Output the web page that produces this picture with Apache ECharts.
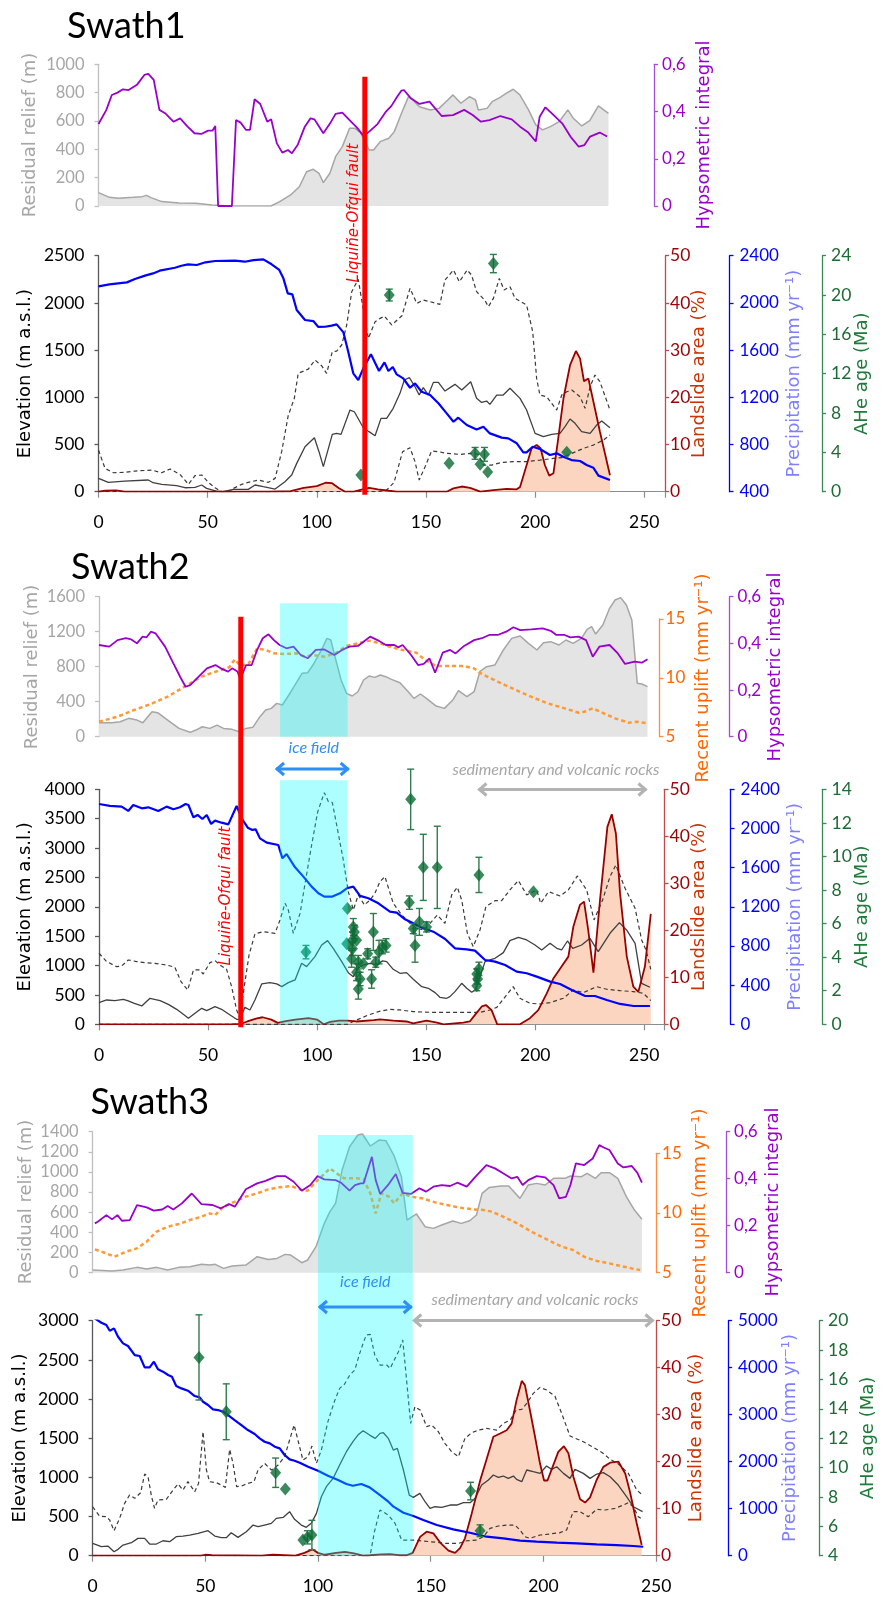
<!DOCTYPE html>
<html>
<head>
<meta charset="utf-8">
<script src="https://cdn.jsdelivr.net/npm/echarts/dist/echarts.min.js"></script>
<style>
  html, body { margin: 0; padding: 0; background: #fff; }
  #chart { width: 883px; height: 1599px; }
</style>
</head>
<body>
<div id="chart"></div>
<script>
// ---------------- data (distance along swath in km, value) ----------------
// Swath1 top panel
const s1Relief = [[0,94],[5,61],[9,54],[16,61],[20,66],[22,75],[24,59],[29,31],[37,21],[44.5,19],[52,7],[60,0],[79,0],[83,31],[88,78],[92,136],[95.3,242],[98.4,259],[101,231],[103,165],[106,231],[108.6,348],[111.7,419],[115,548],[117.5,548],[120,518],[124,395],[126,395],[129,454],[133,478],[135.5,525],[138.8,654],[142,772],[144,748],[147,701],[152,678],[156,689],[160,748],[162.4,784],[166,725],[170,772],[172.7,748],[174,678],[178,689],[180.3,736],[184,767],[186.7,795],[190,824],[193,784],[197,678],[200.3,572],[203.4,537],[207,560],[211,595],[215,678],[217.5,619],[221.4,565],[225,602],[229,706],[233.6,654]];
const s1Hyps = [[0,0.347],[3.6,0.407],[6.1,0.47],[8.7,0.48],[11.2,0.494],[13.8,0.491],[17.6,0.513],[21,0.555],[22.8,0.559],[25.3,0.534],[27.9,0.407],[30.5,0.393],[34.3,0.357],[37.4,0.371],[40.8,0.336],[44,0.308],[47.1,0.305],[50.2,0.319],[52.2,0.319],[53.5,0.339],[54.8,0],[61.1,0],[63,0.364],[65.1,0.353],[67.6,0.322],[69.4,0.322],[71.5,0.452],[74.1,0.432],[77.3,0.357],[79.1,0.367],[81.7,0.265],[84.2,0.226],[86.8,0.237],[88.6,0.223],[91.2,0.258],[94.5,0.336],[97.1,0.371],[98.9,0.367],[103,0.308],[106.1,0.35],[108.6,0.39],[111.7,0.395],[115,0.364],[118.3,0.333],[121.4,0.297],[124,0.315],[127.8,0.347],[131.7,0.4],[134.2,0.424],[136.8,0.463],[138.8,0.489],[139.9,0.491],[143.1,0.456],[147,0.432],[151.6,0.442],[157.2,0.381],[162.4,0.385],[167.5,0.407],[171.4,0.385],[175.2,0.357],[179.1,0.364],[184.1,0.381],[189.3,0.367],[193.1,0.336],[196.9,0.311],[200.3,0.273],[202.1,0.378],[204.7,0.418],[208.5,0.385],[212.4,0.35],[216.2,0.294],[220,0.251],[222.6,0.258],[225.2,0.294],[229.6,0.311],[233,0.294]];
// Swath1 bottom panel
const s1Precip = [[0,2140],[5,2157],[13,2174],[16.7,2202],[21.3,2231],[25,2250],[28,2273],[35,2298],[38,2315],[41,2327],[45,2321],[49,2344],[53.4,2355],[62.5,2358],[67,2349],[71,2363],[75.5,2369],[79.3,2327],[82.8,2279],[84.7,2208],[86.7,2081],[88.8,2072],[90.8,1940],[94.6,1855],[98.4,1846],[100.7,1796],[103.8,1798],[106.8,1807],[109.1,1818],[112.2,1750],[114.4,1586],[116.7,1403],[119,1346],[121.3,1445],[124.8,1564],[128.5,1423],[131,1496],[132.8,1423],[134.8,1457],[136.6,1394],[139.6,1360],[142.7,1281],[145,1318],[148,1247],[151.9,1219],[155.7,1149],[159.5,1064],[162.6,993],[164.8,1027],[168.7,965],[173.2,928],[176.3,951],[179.3,894],[184.7,858],[187.7,852],[191.6,810],[194.6,733],[196.1,733],[198.9,781],[202.2,762],[206.8,711],[209.9,725],[212.9,697],[216.7,668],[220.6,660],[223.6,626],[226.7,603],[229,536],[234.3,499]];
const s1Mean = [[0,141],[4.5,99],[12,113],[22.8,124],[25,95],[29,78],[35.8,64],[39.6,42],[44.2,46],[47.3,71],[49.5,35],[54,7],[57,0],[61.8,25],[68.6,25],[71.7,71],[75.5,53],[80.9,28],[85.4,106],[88.5,177],[90.8,300],[94.6,477],[98.9,572],[101,424],[103,265],[107.1,607],[109.1,618],[111.1,607],[115.2,865],[117.2,847],[121.3,678],[123.9,636],[126.7,593],[129.4,777],[132,777],[135,883],[138.1,1042],[140.1,1183],[142.4,1208],[145,1112],[146.9,1024],[148.8,1102],[151.1,1024],[153.4,1158],[155.7,1158],[158.7,1066],[163.3,1137],[166.4,1077],[170.5,1165],[173.2,989],[175.5,946],[177.8,960],[179.3,925],[182.4,1024],[185.4,1024],[188.5,1095],[193.1,989],[196.1,865],[200,618],[203.8,583],[207.6,607],[211.4,618],[213.7,689],[216,770],[218.3,724],[221.3,636],[225.2,618],[228.2,706],[230.5,749],[234.3,678]];
const s1Max = [[0,441],[3,247],[6.8,201],[12.1,205],[16.7,219],[24.4,229],[28.9,201],[32.8,240],[37.3,184],[41.2,78],[44.2,170],[47.3,177],[50.3,99],[53.4,42],[56.4,0],[60,0],[61.8,35],[65.6,78],[68.6,99],[73.2,124],[77.8,99],[80.9,141],[83.9,424],[86.9,805],[89.7,989],[91.5,1254],[96.1,1299],[99.2,1395],[102.2,1335],[104.5,1254],[107.1,1483],[109.1,1490],[111.4,1554],[113.7,1766],[116,2119],[119,2250],[121.5,1900],[123.6,1624],[126.7,1801],[129,1836],[131,1860],[134.3,1766],[139,1864],[142.7,2154],[145.8,1995],[148.8,2030],[151.9,2013],[156.4,1984],[158.7,2242],[162.6,2348],[165.3,2224],[168.9,2348],[170.9,2295],[173.2,2119],[176.9,2030],[178.6,1960],[180.9,2048],[183.6,2260],[185.8,2136],[188.5,2172],[190.8,2048],[196.1,1977],[198.9,1695],[200.7,1200],[202.2,1024],[205.3,1006],[209.9,865],[212.2,1024],[214.5,1059],[216.8,1077],[220.6,1006],[222.9,883],[225.2,1112],[227.4,1236],[229.7,1165],[234.3,865]];
const s1Min = [[0,0],[128,0],[132,18],[135.4,99],[139.3,424],[142.7,466],[145,318],[146.9,124],[149.6,265],[152.6,431],[155.7,424],[159.5,406],[165.6,395],[170.2,406],[173.9,395],[176.3,282],[180.1,282],[184.7,311],[190.1,318],[196.1,318],[202.2,335],[208.4,353],[212.2,360],[216.8,406],[222.2,459],[226.7,494],[231.3,547],[234.3,600]];
const s1Slide = [[0,0],[3,0.2],[8,0.3],[12,0],[78,0],[88,0.1],[94,0.8],[100,1.2],[104,1.9],[107,1.8],[110,0.8],[113,0],[117,0],[120,0.4],[124,0.8],[128,0.5],[133,0.2],[136.6,0],[159.5,0],[162.6,0.7],[166.4,1.1],[170.2,0.8],[174.9,0],[180.9,0.35],[187,0.6],[191.6,0.5],[193.1,1],[196.1,5.6],[198.4,9.2],[200.7,9.9],[202.5,9.2],[204.5,5.6],[206.5,3.4],[208.4,3.9],[210.6,11.3],[213,19.8],[216,26.8],[218.7,29.8],[220.6,28.2],[222.4,23.4],[224.4,24],[226.7,19.1],[229.7,12.7],[234.3,3.5]];
// [km, age Ma, error Ma]
const s1Ahe = [[120.2,1.7,0],[133.2,20.0,0.6],[160.6,2.9,0],[172.5,3.9,0.6],[174.8,2.8,0],[176.8,3.8,0.7],[178.3,2.0,0],[180.9,23.2,0.93],[214.5,4.0,0]];

// Swath2 top panel
const s2Relief = [[0,160],[5.9,160],[9.7,171],[13.6,210],[17.4,190],[20.1,160],[24.3,286],[26.9,274],[31.5,190],[36.7,95],[41.8,50],[44.4,76],[47.4,114],[50.8,95],[54.1,133],[57.1,95],[61,84],[64.3,57],[67.4,95],[70.5,107],[73.8,229],[76.4,305],[79,324],[81.5,381],[84.1,362],[88,514],[93.1,724],[95.7,731],[98.1,819],[102,991],[104.5,1124],[106.3,1105],[108.4,895],[111,648],[113.5,495],[116.1,465],[118.7,514],[121.3,648],[123.8,693],[126.4,678],[129,705],[131.5,686],[134.1,655],[138,617],[141.8,514],[144.4,438],[147.4,488],[150.7,427],[154.6,350],[158.4,324],[162.2,419],[164.8,526],[168.7,457],[172,514],[174.6,743],[177.7,800],[181.5,819],[185.4,991],[189.2,1124],[193.1,1151],[196.9,1067],[200.8,991],[203.8,1074],[207.1,1086],[210.9,1048],[214.1,1105],[217.4,1067],[221.2,1124],[223.8,1227],[225.9,1257],[227.7,1173],[231,1276],[234.1,1467],[236.6,1562],[239.2,1589],[241.8,1505],[244.3,1334],[246.8,610],[248.9,602],[251.5,572]];
const s2Hyps = [[0,0.393],[4.7,0.386],[8.5,0.414],[12.3,0.422],[14.8,0.417],[17.4,0.4],[20,0.429],[21.8,0.426],[23.8,0.45],[25.9,0.443],[30.3,0.386],[34.1,0.314],[37.2,0.257],[39.7,0.214],[41.8,0.221],[45.7,0.257],[49.5,0.293],[53.4,0.307],[55.8,0.293],[59.2,0.279],[61,0.293],[63.5,0.279],[64.8,0.246],[67.4,0.307],[70,0.307],[72.5,0.372],[75.1,0.422],[77.7,0.439],[80.2,0.414],[82.8,0.393],[85.9,0.379],[89.2,0.386],[92.5,0.35],[95.7,0.336],[99.4,0.372],[103.3,0.374],[107.9,0.35],[111.5,0.372],[114.8,0.386],[118.7,0.389],[121.3,0.407],[124.3,0.429],[127.7,0.414],[131.5,0.393],[135.4,0.393],[137.2,0.383],[139.2,0.393],[143.1,0.35],[146.3,0.307],[148.9,0.312],[151.5,0.336],[154.1,0.274],[157.6,0.36],[161,0.372],[163.5,0.357],[167.4,0.389],[172,0.414],[175.6,0.422],[178.9,0.436],[182.8,0.436],[186.7,0.45],[190,0.469],[193.1,0.457],[198.2,0.46],[203.4,0.464],[207.1,0.454],[209.7,0.436],[213.5,0.436],[216.1,0.426],[219.9,0.429],[223.3,0.414],[226.4,0.343],[229.4,0.386],[234.1,0.393],[237.9,0.357],[241.2,0.312],[245.6,0.322],[248.9,0.317],[251.5,0.332]];
const s2Uplift = [[0,6.27],[8.5,6.7],[16.1,7.27],[23.8,7.78],[31.5,8.4],[39.2,9.25],[46.9,10.1],[54.7,10.6],[59.7,10.9],[62.3,11.57],[64.8,11.0],[68.7,11.23],[72.5,12.5],[76.4,12.37],[80.2,12.08],[85.4,12.03],[90.5,12.08],[94.4,11.8],[98.1,11.94],[103.3,11.8],[108.4,12.08],[113.5,12.71],[118.7,12.93],[123.8,13.16],[129,12.93],[134.1,12.59],[139.2,12.37],[145.5,12.14],[149.5,11.52],[154.5,11.0],[159.7,11.0],[167.4,11.0],[172,10.8],[175.1,10.38],[182.8,9.67],[190.5,9.02],[198.1,8.4],[205.8,7.83],[213.5,7.41],[219.9,7.04],[222.5,7.12],[226.4,7.41],[231.5,6.98],[236.6,6.56],[243,6.19],[246.8,6.27],[251.5,6.13]];
// Swath2 bottom panel
const s2Precip = [[0,2250],[5,2230],[10.4,2223],[13.4,2179],[15.7,2240],[19.6,2206],[22.6,2216],[27.2,2179],[31,2223],[34.1,2196],[37.1,2216],[39.7,2250],[41,2240],[43.3,2114],[45.2,2138],[47.4,2097],[49.4,2138],[51.4,2046],[53.2,2080],[56.2,2059],[59.3,2042],[63.1,2230],[65.4,2104],[68.2,2008],[70.3,1985],[71.8,1991],[73.8,1899],[76.9,1855],[82.2,1831],[84.1,1695],[86,1739],[89.9,1603],[93.7,1508],[97.5,1406],[100.6,1338],[103.3,1304],[107,1304],[110.5,1338],[113.6,1389],[116.6,1406],[119.7,1311],[123.5,1287],[128.1,1236],[133.4,1151],[136.5,1140],[140.3,1072],[144.1,1031],[148,987],[153.3,946],[158.7,871],[163.2,776],[168.6,766],[172.4,752],[177,657],[181.6,640],[186.2,606],[191.5,538],[196.1,521],[200.7,487],[206.9,436],[211.4,412],[216.8,351],[222.9,289],[227.4,289],[232.8,248],[238.9,208],[245.1,187],[252.6,187]];
const s2Mean = [[0,369],[3.5,414],[7.3,403],[11.2,426],[13.4,397],[16.2,357],[19.6,312],[23.4,443],[28,403],[31.8,340],[35.6,255],[39.1,159],[41,102],[44,187],[47.1,272],[49.4,233],[53.2,301],[56.2,255],[60.1,159],[63.1,85],[64.6,85],[66.9,289],[69.2,244],[71.5,414],[74.6,687],[78.4,709],[81.5,687],[83.8,641],[86.8,709],[89.9,755],[92.9,1038],[95.2,982],[99,1152],[102.1,1350],[104.8,1424],[107.4,1294],[111.3,1067],[114.3,879],[116.6,811],[118.9,953],[121.2,1010],[124.3,1038],[127.3,1010],[130,1080],[131.9,1067],[134.9,936],[138,868],[141,879],[144.1,766],[148,641],[151,613],[154.1,539],[156.3,460],[159.4,443],[160.9,471],[163.2,556],[166.3,698],[168.6,613],[170.9,545],[172.4,584],[174.7,811],[177,1067],[179.3,1095],[181.6,1123],[185.4,1220],[188.4,1424],[192.3,1481],[196.1,1436],[199.9,1350],[203,1265],[206.8,1379],[209.9,1294],[212.1,1265],[214.8,1418],[217.2,1294],[221.3,1350],[225.1,1464],[228.9,1237],[234.3,1549],[238.6,1731],[241.9,1606],[245.8,1379],[248.8,698],[252.6,630]];
const s2Max = [[0,1209],[3.5,1067],[8.1,982],[10.4,993],[13.4,1095],[17.3,1067],[21.1,1050],[25.7,1038],[31,1010],[34.8,970],[37.6,726],[40.7,584],[43.3,925],[45.9,925],[47.8,857],[50.9,1050],[53.2,1084],[55.5,1010],[58.5,936],[60.8,641],[63.1,244],[64.6,102],[66.6,641],[68.8,1180],[71.5,1538],[75.4,1577],[80.7,1549],[83,1776],[85.3,2060],[86.8,1946],[89.1,1549],[92.2,1889],[94.5,2400],[97.5,3053],[100.3,3620],[103.3,3943],[105.2,3790],[107,3773],[109.4,3308],[112,2797],[114.3,2258],[116.6,1946],[118.9,2202],[121.7,2031],[124.3,2116],[126.5,2230],[128.8,2428],[131.1,2514],[134.9,2060],[138.8,1861],[142.6,1719],[145.6,1634],[148.7,1606],[151.8,1719],[155.1,1861],[158.6,1719],[161.7,2202],[164.3,2332],[166.3,2116],[168.9,1549],[171.6,1322],[174.7,1606],[177.4,2003],[181.6,2105],[184.6,2105],[188.4,2287],[192.3,2446],[196.1,2202],[200.7,2287],[202.5,2060],[206.1,2258],[211.4,2184],[215.2,2287],[219.3,2525],[223.6,2287],[227,1776],[230.9,2116],[234.3,2514],[237,2712],[241.2,2315],[245.8,1975],[248.8,1436],[250.8,1265],[253,936]];
const s2Min = [[0,0],[114,0],[117.4,62],[123,150],[128.1,216],[133.4,255],[138,244],[144.1,216],[151.8,204],[174.7,204],[179.3,244],[182.4,289],[186.9,499],[189.9,641],[193,443],[197.6,357],[202.2,346],[206.8,369],[212.9,443],[217.5,584],[222.1,539],[228.2,641],[232.8,596],[238.9,573],[245,556],[249.6,528],[253,403]];
const s2Slide = [[0,0],[60,0],[65,0.1],[68,0.6],[72,1.2],[75,1.5],[79,1.0],[82,0.3],[85,0.6],[90,1.0],[96,1.3],[100,1.0],[103,0],[106,0.5],[110,0.8],[114,0.8],[118,0.6],[126,0.9],[128.8,1.06],[135,0.8],[141,0.6],[144,0.2],[150.2,0.8],[155,0.35],[158,0],[167,0.35],[170,0.6],[172.4,2],[175.5,3.8],[177.4,4.1],[180,3.0],[182.6,0],[193,0],[197.6,1.3],[201.4,3.0],[205.3,6.6],[208.4,9.8],[212.1,12.3],[215.2,14.4],[217.5,20.8],[220.5,25.4],[222.4,26.1],[224.3,20.1],[226.7,11],[229.7,26.4],[233.1,42],[235.1,44.7],[237,40.6],[238.9,27.9],[242,14.4],[245,8],[247.3,6.9],[250.3,12.3],[253,23.5]];
const s2Ahe = [[94.9,4.3,0.4],[113.9,6.9,0],[113.6,4.8,0],[116.6,5.8,0.5],[117.1,5.5,0.4],[116.2,5.0,0.5],[118.1,5.0,0],[116.2,4.5,0.4],[115.8,3.9,0.5],[118.9,3.7,0.4],[121.2,3.6,0],[118.1,3.1,0.5],[119.7,2.7,0.4],[118.9,2.1,0.6],[123.2,4.2,0.3],[125.8,5.5,1.1],[126.9,3.7,0.3],[125,2.7,0.55],[128.4,4.3,0.7],[129.9,4.6,0.4],[131.6,4.7,0.4],[142.9,13.4,1.8],[148.7,9.35,1.97],[155.1,9.35,2.45],[142.3,7.25,0.4],[144.1,5.7,0.3],[146.9,6.1,0.8],[150.2,5.8,0.3],[144.9,4.7,1.0],[174.2,8.9,1.05],[174.2,3.3,0.4],[173.2,3.0,0.3],[173.6,2.7,0.3],[173.2,2.3,0.3],[199.2,7.9,0]];

// Swath3 top panel
const s3Relief = [[0,26],[8.6,17],[13.5,26],[19.7,53],[24,36],[28.4,53],[33.3,26],[38.3,53],[43.2,60],[48.3,83],[52,76],[54.4,83],[58.1,43],[61.9,66],[68,76],[73,159],[78,132],[81.8,142],[85.4,182],[87.9,175],[92.8,99],[95.4,126],[99.1,258],[102.8,490],[105.3,606],[107.8,688],[110.7,1019],[114,1251],[117.7,1367],[119.7,1377],[123.2,1258],[127.1,1317],[130.1,1311],[133.8,1159],[137,953],[139.5,523],[143.7,583],[147.5,457],[151.2,440],[154.9,473],[159.8,513],[163.6,490],[167.3,516],[170.3,573],[172.8,788],[176,847],[181,861],[184.6,861],[189.6,738],[193.3,871],[197,887],[200.8,871],[204.5,937],[209.5,937],[212,960],[216.9,953],[219.4,986],[223.1,937],[225.6,993],[229.3,993],[233,937],[236.8,755],[240.4,622],[243.7,530]];
const s3Hyps = [[1,0.21],[2.3,0.217],[6.1,0.245],[8.6,0.227],[11,0.245],[13,0.221],[16.5,0.224],[19.7,0.288],[24,0.278],[27.1,0.264],[30.9,0.269],[33.3,0.284],[35.8,0.269],[39.6,0.295],[44,0.337],[48.3,0.292],[53.2,0.288],[56.9,0.274],[60.6,0.292],[63.1,0.281],[68,0.355],[73,0.38],[76.7,0.391],[81.8,0.411],[85.4,0.411],[89.2,0.387],[92.8,0.349],[96.6,0.373],[99.8,0.411],[102.8,0.397],[107.8,0.394],[110.2,0.383],[114,0.349],[116.4,0.373],[118.9,0.38],[120.2,0.38],[123.9,0.493],[125.6,0.394],[127.6,0.335],[131.4,0.377],[134.5,0.42],[137.5,0.34],[141.2,0.335],[145,0.359],[148,0.345],[151.2,0.366],[154.9,0.373],[158.6,0.369],[161.8,0.383],[166,0.366],[169.8,0.408],[174.7,0.458],[178.5,0.444],[182.1,0.423],[185.9,0.401],[188.4,0.408],[190.8,0.373],[193.3,0.394],[197,0.411],[200.8,0.406],[204.5,0.373],[207,0.316],[210,0.323],[212,0.373],[214.4,0.465],[218.1,0.458],[221.9,0.486],[224.8,0.543],[226.8,0.533],[229.3,0.522],[233,0.465],[235.5,0.448],[239.2,0.454],[241.7,0.425],[243.7,0.383]];
const s3Uplift = [[1,6.95],[6.1,6.62],[9.7,6.34],[14.8,6.76],[19.7,7.04],[24,7.6],[28.4,8.44],[33.3,8.85],[38.3,9.08],[43.2,9.41],[48.3,9.69],[52,9.97],[54.4,9.83],[58.1,10.53],[63.1,10.95],[68,11.37],[73,11.65],[78,11.98],[83,12.15],[87.9,12.26],[92.8,11.93],[95.4,11.87],[99.1,12.62],[102.8,13.27],[105.3,13.74],[107.8,13.38],[111.5,12.9],[117.7,12.9],[120.2,12.82],[123.2,11.65],[125.6,9.97],[128.1,11.65],[131.4,11.37],[133.8,10.81],[137.5,11.65],[141.2,11.37],[146.2,11.23],[152.4,10.87],[157.3,10.67],[162.3,10.47],[168.5,10.31],[173.4,10.25],[177.2,10.11],[182.1,9.69],[188.4,9.13],[194.6,8.44],[202,7.74],[208.2,7.18],[213.2,6.9],[218.1,6.34],[223.1,6.01],[229.3,5.78],[234.3,5.56],[239.2,5.36],[242.9,5.22]];
// Swath3 bottom panel
const s3Precip = [[0,5080],[3.9,4957],[6.1,4908],[7.6,4787],[9.5,4837],[11.3,4659],[13.5,4518],[15.7,4461],[18.7,4269],[20.9,4248],[23.1,4007],[25.3,4007],[27.2,4128],[29,3965],[31.2,3915],[33.5,3844],[35.2,3808],[37.1,3610],[39.4,3560],[42.3,3510],[45.3,3397],[47.5,3369],[49,3276],[51.2,3206],[53.4,3113],[55.6,3099],[57.9,3064],[60.1,2993],[63,2886],[66,2780],[68.9,2674],[71.9,2589],[74.1,2496],[76.3,2425],[78.6,2390],[80.8,2319],[83,2284],[85.2,2142],[87.4,2050],[89.6,2021],[91.9,1979],[95.6,1894],[100,1808],[104.4,1702],[108.9,1610],[112.6,1525],[115.5,1489],[119.2,1525],[122.9,1454],[127.5,1291],[131.2,1149],[133.5,1043],[137.9,915],[142.3,844],[146.7,759],[152.7,652],[160,560],[167.4,489],[174.8,404],[182.2,369],[189.6,319],[197,298],[205.9,277],[214.8,262],[223.6,241],[232.5,227],[239.9,206],[244.3,191]];
const s3Mean = [[0,157],[3.9,115],[6.8,123],[9.5,51],[11.3,81],[13.5,136],[17.2,166],[20.1,221],[23.1,221],[25.3,149],[28.3,149],[31.2,191],[34.2,179],[37.1,243],[40.1,251],[43.1,264],[46.8,285],[51.2,319],[54.2,251],[57.1,230],[59.3,230],[61.5,294],[64.5,234],[68.2,306],[71.2,391],[73.4,370],[76.3,391],[79.3,413],[81.5,477],[84.5,489],[87.4,562],[89.6,464],[92.6,391],[94.8,362],[97,413],[99.3,540],[101.5,753],[103.7,881],[106.7,987],[109.6,1157],[112.6,1328],[115.5,1455],[117.7,1540],[120,1596],[122.9,1540],[125.4,1498],[127.5,1562],[129,1570],[131.2,1498],[133.4,1349],[135.2,1370],[137.9,1094],[140.5,774],[142.3,745],[145.2,796],[147.5,689],[149.7,604],[151.9,625],[154.9,617],[158.6,647],[161.6,647],[164.5,677],[167.5,677],[169.7,732],[172.6,902],[175.6,966],[177.8,1030],[180,1000],[182.2,1017],[184.4,987],[186.7,1017],[188.1,974],[190.4,945],[192.6,1094],[195.5,1072],[198.5,1051],[201.4,1145],[203.7,1102],[205.9,1136],[208.9,1051],[211.8,987],[214,1102],[217.7,1051],[220.7,987],[223.7,1042],[226.6,1060],[229.6,1008],[233.2,902],[236.9,753],[239.9,625],[244,562]];
const s3Max = [[0,625],[3.1,506],[6.1,498],[7.6,455],[9.5,319],[12,477],[14.2,668],[16.4,774],[18.7,732],[21.3,804],[23.1,1042],[24.6,1008],[26.1,762],[27.5,604],[29,711],[32.7,719],[35.7,838],[37.9,915],[40.1,838],[42.3,945],[45.3,817],[47,923],[49,1583],[50.5,1094],[51.9,945],[54.9,932],[57.1,902],[58.9,872],[60.8,1357],[62.3,1179],[63.9,881],[66,889],[68.9,923],[71.6,945],[73.4,1094],[76.3,1179],[79.3,1094],[82.3,1157],[85.2,1264],[87.4,1477],[89.4,1668],[91.1,1477],[93.3,1221],[95.6,1264],[97.3,1400],[99.3,1179],[101.5,1349],[104.4,1711],[107.4,1979],[109.6,2136],[111.8,2191],[114.1,2306],[116.3,2370],[118.5,2583],[120,2710],[121.4,2817],[123.2,2825],[125.2,2560],[127.5,2434],[130.5,2434],[132,2391],[134.2,2519],[135.7,2604],[137.6,2753],[139.3,2242],[141.1,1689],[143,1902],[145.3,1859],[148.2,1647],[150.4,1668],[153.4,1583],[156.3,1434],[159.3,1328],[162.3,1264],[165.2,1498],[168.2,1570],[171.2,1604],[174.8,1625],[179.3,1604],[182.2,1689],[185.3,1732],[187.9,1859],[190.4,1868],[192.6,1944],[195.5,2072],[198.5,2149],[201.4,2115],[205.1,2038],[208.1,1817],[211.8,1528],[217.7,1455],[222.2,1383],[226.6,1306],[229.6,1230],[233.3,1170],[237.7,1051],[241.4,838],[244,774]];
const s3Min = [[0,0],[123,0],[123.5,60],[125,300],[127.5,583],[131.2,519],[134.2,413],[137.1,200],[142.3,200],[149.7,179],[157.1,157],[162.3,157],[166,191],[170.4,200],[173.4,243],[176.3,349],[180,379],[183.7,391],[187.4,391],[189.6,328],[191.8,243],[194,221],[198.5,264],[202.9,277],[207.4,294],[210.3,328],[213.2,562],[216.2,562],[219.9,498],[223.6,591],[227.3,583],[231.8,604],[235.5,647],[237.7,677],[239.9,625],[242.1,498],[243.2,477]];
const s3Slide = [[0,0],[48,0],[50,0.2],[53,0.1],[75,0],[80,0.2],[85,0.1],[90,0],[94,0.6],[97.5,1.35],[100,0.6],[103,0.2],[108,0.6],[112,0.8],[116,0.5],[120,0],[123.1,0.1],[128,0.3],[132,0.35],[136,0.1],[139.3,0.1],[142,0.6],[145.3,4.0],[148.2,5.1],[151.2,4.75],[154.2,2.8],[157.9,1.1],[160.8,0.6],[163,1.6],[165.2,3.7],[168.2,9.0],[172,16.1],[175.6,21.8],[177.8,25.3],[180.8,26.0],[183.7,26.7],[185.9,28.1],[188.1,33.1],[190.4,37.2],[191.8,36.3],[194,31],[196.3,25.3],[198.5,19.6],[200.3,16],[201.8,16],[204.1,18.9],[206.6,22.1],[209.1,23.3],[211.1,21.8],[213.3,16.8],[216.3,12],[218.5,11.3],[220.7,12.4],[223.6,16.1],[226.6,18.9],[229.6,19.8],[233.3,20],[236.3,17.5],[238.4,13.6],[241.4,6.9],[243.6,2.3]];
const s3Ahe = [[47.2,17.5,2.9],[59.3,13.8,1.9],[81.2,9.65,1.0],[85.5,8.54,0],[93.3,5.07,0],[95.3,5.25,0.45],[97.3,5.41,1.0],[167.7,8.4,0.6],[171.9,5.7,0.4]];

// features (km)
const s1Fault = 122, s2Fault = 65;
const s2Ice = [83, 114], s3Ice = [100, 142];
const s2Sed = [174, 251], s3Sed = [142.3, 248.8];

// ---------------- chart building ----------------
const grid = [], xAxis = [], yAxis = [], series = [];
const LATO = 'Lato, "Open Sans", sans-serif';
const DJV = '"DejaVu Sans", Verdana, sans-serif';
const plain = v => String(v);

function addGrid(left, top, width, height) {
  grid.push({ left, top, width, height, containLabel: false, outerBoundsMode: 'none' });
  return grid.length - 1;
}
function addX(gi, max, show) {
  xAxis.push({
    type: 'value', gridIndex: gi, min: 0, max, interval: 50, show,
    axisLine: { show, onZero: false, lineStyle: { color: '#8C8C8C', width: 1.2 } },
    axisTick: { show, length: 6, lineStyle: { color: '#8C8C8C', width: 1.2 } },
    axisLabel: { show, margin: 22, fontFamily: LATO, fontSize: 17.5, color: '#000',
      formatter: v => (v % 50 === 0 ? String(v) : '') },
    splitLine: { show: false }
  });
  return xAxis.length - 1;
}
function addY(gi, position, offset, min, max, interval, lineColor, labelColor, fontSize, margin, formatter) {
  yAxis.push({
    type: 'value', gridIndex: gi, position, offset, min, max, interval,
    axisLine: { show: true, onZero: false, lineStyle: { color: lineColor, width: 1.3 } },
    axisTick: { show: true, length: 4, lineStyle: { color: lineColor, width: 1.3 } },
    axisLabel: { margin, fontFamily: LATO, fontSize, color: labelColor, formatter: formatter || plain },
    splitLine: { show: false }
  });
  return yAxis.length - 1;
}
const comma = v => (v === 0 ? '0' : v.toFixed(1).replace('.', ','));

function addLine(xi, yi, data, color, width, type, z, area) {
  const s = { type: 'line', xAxisIndex: xi, yAxisIndex: yi, data, symbol: 'none', silent: true,
    z, lineStyle: { color, width, type: type || 'solid' } };
  if (area) { s.areaStyle = { color: area, opacity: 1 }; }
  series.push(s);
}
function errRender(params, api) {
  const x = api.value(0), y = api.value(1), e = api.value(2);
  if (!e) return null;
  const hi = api.coord([x, y + e]), lo = api.coord([x, y - e]);
  const st = { stroke: '#2F7D4C', lineWidth: 1.4 };
  return { type: 'group', children: [
    { type: 'line', shape: { x1: hi[0], y1: hi[1], x2: lo[0], y2: lo[1] }, style: st },
    { type: 'line', shape: { x1: hi[0] - 3.5, y1: hi[1], x2: hi[0] + 3.5, y2: hi[1] }, style: st },
    { type: 'line', shape: { x1: lo[0] - 3.5, y1: lo[1], x2: lo[0] + 3.5, y2: lo[1] }, style: st }
  ] };
}

function buildTop(c) {
  const g = addGrid(c.L, c.top, c.xmax * c.K, c.h);
  const x = addX(g, c.xmax, false);
  const yr = addY(g, 'left', 0, 0, c.rMax, c.rInt, '#BFBFBF', '#A6A6A6', 16.5, 14);
  const yh = addY(g, 'right', c.hOff, 0, 0.6, 0.2, '#A64DD6', '#9900CC', 17, 8, comma);
  addLine(x, yr, c.relief, '#A6A6A6', 1.5, 'solid', 1, '#E4E4E4');
  addLine(x, yh, c.hyps, '#9900CC', 1.8, 'solid', 4);
  if (c.uplift) {
    const gu = addGrid(c.L, c.upTop, c.xmax * c.K, c.upH);
    const xu = addX(gu, c.xmax, false);
    const yu = addY(gu, 'right', 0, 5, 15, 5, '#FF8C40', '#FF6600', 17, 6);
    addLine(xu, yu, c.uplift, '#FF9933', 2.5, [4, 3], 3);
  }
  return { x, yr };
}
function buildBottom(c) {
  const g = addGrid(c.L, c.top, c.xmax * c.K, c.h);
  const x = addX(g, c.xmax, true);
  const ye = addY(g, 'left', 0, 0, c.eMax, 500, '#595959', '#000', 17.5, 14);
  const ys = addY(g, 'right', 0, 0, 50, 10, '#BE4B48', '#9C0006', 17.5, 5);
  const yp = addY(g, 'right', c.pOff, c.pMin, c.pMax, c.pInt, '#0000FF', '#0000FF', 17, 10);
  const ya = addY(g, 'right', c.aOff, c.aMin, c.aMax, c.aInt, '#3A8A55', '#1E6B35', 17.5, 9);
  // landslide fill under everything, outline on top
  addLine(x, ys, c.slide, '#FBD5BF', 0, 'solid', 1, '#FBD5BF');
  addLine(x, ye, c.max, '#3A3A3A', 1.2, [4, 3], 3);
  addLine(x, ye, c.min, '#3A3A3A', 1.2, [4, 3], 3);
  addLine(x, ye, c.mean, '#404040', 1.3, 'solid', 3);
  addLine(x, ys, c.slide, '#990000', 1.8, 'solid', 4);
  addLine(x, yp, c.precip, '#0000FF', 2.2, 'solid', 5);
  series.push({ type: 'custom', xAxisIndex: x, yAxisIndex: ya, data: c.ahe, renderItem: errRender,
    encode: { x: 0, y: 1 }, z: 6, silent: true });
  series.push({ type: 'scatter', xAxisIndex: x, yAxisIndex: ya, data: c.ahe.map(d => [d[0], d[1]]),
    symbol: 'diamond', symbolSize: [11, 13], itemStyle: { color: '#0B6B35' }, z: 7, silent: true });
  return { x, ye };
}

const s1T = buildTop({ L: 98.5, K: 2.183, top: 64.3, h: 141.7, xmax: 254.5, rMax: 1000, rInt: 200, hOff: 0,
  relief: s1Relief, hyps: s1Hyps });
const s1B = buildBottom({ L: 98.5, K: 2.183, top: 255.7, h: 236, xmax: 259.5, eMax: 2500,
  pOff: 64.5, pMin: 400, pMax: 2400, pInt: 400, aOff: 157, aMin: 0, aMax: 24, aInt: 4,
  slide: s1Slide, max: s1Max, min: s1Min, mean: s1Mean, precip: s1Precip, ahe: s1Ahe });

const s2T = buildTop({ L: 99, K: 2.181, top: 596.7, h: 140, xmax: 257, rMax: 1600, rInt: 400, hOff: 70,
  relief: s2Relief, hyps: s2Hyps, uplift: s2Uplift, upTop: 619, upH: 117.7 });
const s2B = buildBottom({ L: 99, K: 2.181, top: 789.3, h: 235, xmax: 259.3, eMax: 4000,
  pOff: 66, pMin: 0, pMax: 2400, pInt: 400, aOff: 158, aMin: 0, aMax: 14, aInt: 2,
  slide: s2Slide, max: s2Max, min: s2Min, mean: s2Mean, precip: s2Precip, ahe: s2Ahe });

const s3T = buildTop({ L: 92.6, K: 2.254, top: 1131.7, h: 141, xmax: 250, rMax: 1400, rInt: 200, hOff: 70,
  relief: s3Relief, hyps: s3Hyps, uplift: s3Uplift, upTop: 1153.3, upH: 119.4 });
const s3B = buildBottom({ L: 92.6, K: 2.254, top: 1320.7, h: 235, xmax: 250, eMax: 3000,
  pOff: 72, pMin: 0, pMax: 5000, pInt: 1000, aOff: 163, aMin: 4, aMax: 20, aInt: 2,
  slide: s3Slide, max: s3Max, min: s3Min, mean: s3Mean, precip: s3Precip, ahe: s3Ahe });

const chart = echarts.init(document.getElementById('chart'), null, { renderer: 'canvas' });
chart.setOption({ animation: false, backgroundColor: '#fff', grid, xAxis, yAxis, series });

// ---------------- overlays placed through the axes ----------------
const px = (xi, yi, x, y) => chart.convertToPixel({ xAxisIndex: xi, yAxisIndex: yi }, [x, y]);
const G = [];
function txt(x, y, text, font, fill, rot, align) {
  const a = align || 'center';
  G.push({ type: 'text', x, y, rotation: rot || 0, z: 30,
    style: { text, font, fill, align: a, verticalAlign: 'middle', textAlign: a, textVerticalAlign: 'middle' } });
}
function vtxt(x, y, text, fill) { txt(x, y, text, '18px ' + DJV, fill, Math.PI / 2); }
function rect(x1, y1, x2, y2) {
  G.push({ type: 'rect', z: 10, shape: { x: x1, y: y1, width: x2 - x1, height: y2 - y1 },
    style: { fill: 'rgba(0,255,255,0.32)' } });
}
function fault(top, bottom, km, topVal) {
  const b = px(bottom.x, bottom.ye, km, 0);
  const t = px(top.x, top.yr, km, topVal);
  G.push({ type: 'line', z: 25, shape: { x1: b[0], y1: t[1], x2: b[0], y2: b[1] + 3 },
    style: { stroke: '#FF0000', lineWidth: 5 } });
  return b[0];
}
function arrow(x1, x2, y, color, w) {
  const h = 8;
  const st = { stroke: color, lineWidth: w, fill: null, lineJoin: 'miter' };
  G.push({ type: 'line', z: 30, shape: { x1, y1: y, x2, y2: y }, style: st });
  G.push({ type: 'polyline', z: 30, shape: { points: [[x1 + h, y - h * 0.75], [x1 + 1, y], [x1 + h, y + h * 0.75]] }, style: st });
  G.push({ type: 'polyline', z: 30, shape: { points: [[x2 - h, y - h * 0.75], [x2 - 1, y], [x2 - h, y + h * 0.75]] }, style: st });
}

// swath titles
txt(67, 26, 'Swath1', '36px ' + LATO, '#000', 0, 'left');
txt(71, 567, 'Swath2', '36px ' + LATO, '#000', 0, 'left');
txt(90.5, 1102, 'Swath3', '36px ' + LATO, '#000', 0, 'left');

// axis titles
const GRAY = '#A6A6A6', PURP = '#9900CC', ORNG = '#FF6600', RED = '#CC3300', PBLUE = '#7F7FFF', GRN = '#1E7B3A';
vtxt(30.8, 135, 'Residual relief (m)', GRAY);
vtxt(704.7, 135, 'Hypsometric integral', PURP);
vtxt(25.7, 373.7, 'Elevation (m a.s.l.)', '#000');
vtxt(699, 373.7, 'Landslide area (%)', RED);
vtxt(794, 373.7, 'Precipitation (mm yr\u207B\u00B9)', PBLUE);
vtxt(862.4, 373.7, 'AHe age (Ma)', GRN);

vtxt(32, 667, 'Residual relief (m)', GRAY);
vtxt(703, 678, 'Recent uplift (mm yr\u207B\u00B9)', ORNG);
vtxt(775.7, 667, 'Hypsometric integral', PURP);
vtxt(25.7, 906.8, 'Elevation (m a.s.l.)', '#000');
vtxt(699.7, 906.8, 'Landslide area (%)', RED);
vtxt(795, 906.8, 'Precipitation (mm yr\u207B\u00B9)', PBLUE);
vtxt(862.4, 906.8, 'AHe age (Ma)', GRN);

vtxt(26.3, 1202, 'Residual relief (m)', GRAY);
vtxt(700, 1213, 'Recent uplift (mm yr\u207B\u00B9)', ORNG);
vtxt(773, 1202, 'Hypsometric integral', PURP);
vtxt(20, 1438, 'Elevation (m a.s.l.)', '#000');
vtxt(696, 1438, 'Landslide area (%)', RED);
vtxt(790, 1438, 'Precipitation (mm yr\u207B\u00B9)', PBLUE);
vtxt(868, 1438, 'AHe age (Ma)', GRN);

// ice field boxes
{
  const a = px(s2B.x, s2B.ye, s2Ice[0], 4000), b = px(s2B.x, s2B.ye, s2Ice[1], 0);
  const t1 = px(s2T.x, s2T.yr, s2Ice[0], 1525), t2 = px(s2T.x, s2T.yr, s2Ice[0], 0);
  rect(a[0], t1[1], b[0], t2[1]);
  rect(a[0], a[1] - 9, b[0], b[1]);
  const cx = (a[0] + b[0]) / 2;
  txt(cx, 748, 'ice field', 'italic 16px ' + LATO, '#2F8FF5');
  arrow(a[0] - 4, b[0] + 1, 769, '#2F8FF5', 3);
}
{
  const a = px(s3B.x, s3B.ye, s3Ice[0], 0), b = px(s3B.x, s3B.ye, s3Ice[1], 0);
  const t = px(s3T.x, s3T.yr, s3Ice[0], 1367);
  rect(a[0], t[1], b[0], a[1]);
  const cx = (a[0] + b[0]) / 2;
  txt(cx, 1282, 'ice field', 'italic 16px ' + LATO, '#2F8FF5');
  arrow(a[0] + 1, b[0] - 1, 1307, '#2F8FF5', 3);
}
// rock units
{
  const a = px(s2B.x, s2B.ye, s2Sed[0], 0), b = px(s2B.x, s2B.ye, s2Sed[1], 0);
  arrow(a[0], b[0], 789.5, '#B3B3B3', 3);
  txt(556, 770, 'sedimentary and volcanic rocks', 'italic 16px ' + LATO, '#A6A6A6');
}
{
  const a = px(s3B.x, s3B.ye, s3Sed[0], 0), b = px(s3B.x, s3B.ye, s3Sed[1], 0);
  arrow(a[0], b[0], 1320.5, '#B3B3B3', 3);
  txt(535, 1300, 'sedimentary and volcanic rocks', 'italic 16px ' + LATO, '#A6A6A6');
}
// Liquiñe-Ofqui fault
{
  const f1 = fault(s1T, s1B, s1Fault, 912);
  txt(f1 - 11, 213, 'Liqui\u00F1e-Ofqui fault', 'italic 15px ' + DJV, '#FF0000', Math.PI / 2);
  const f2 = fault(s2T, s2B, s2Fault, 1371);
  txt(f2 - 15, 896, 'Liqui\u00F1e-Ofqui fault', 'italic 15px ' + DJV, '#FF0000', Math.PI / 2);
}

chart.setOption({ graphic: { elements: G } });
</script>
</body>
</html>
